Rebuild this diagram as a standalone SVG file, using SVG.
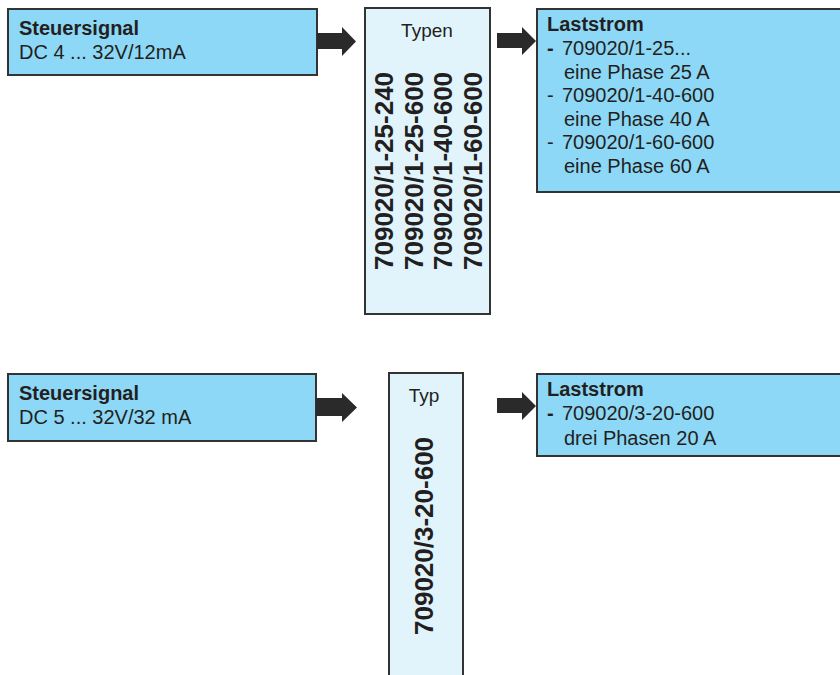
<svg xmlns="http://www.w3.org/2000/svg" width="840" height="675" viewBox="0 0 840 675">
<style>
text{font-family:"Liberation Sans",Arial,sans-serif;fill:#231f20}
.t{font-size:20px}
.b{font-weight:bold}
.v{font-size:26px;font-weight:bold}
.blue{fill:#8dd8f7;stroke:#333;stroke-width:2}
.light{fill:#e1f4fc;stroke:#333;stroke-width:2}
.arr{fill:#2b2a2a}
</style>
<rect width="840" height="675" fill="#fff"/>
<g id="steuer1">
<rect class="blue" x="8" y="9" width="309" height="66"/>
<text class="t b" x="19" y="35">Steuersignal</text>
<text class="t" x="19" y="59">DC 4 ... 32V/12mA</text>
</g>
<g id="typen">
<rect class="light" x="365" y="8" width="125" height="306"/>
<text class="t" x="427" y="37" text-anchor="middle" style="font-size:19px">Typen</text>
<text class="v" transform="translate(393,270) rotate(-90)">709020/1-25-240</text>
<text class="v" transform="translate(423,270) rotate(-90)">709020/1-25-600</text>
<text class="v" transform="translate(452,270) rotate(-90)">709020/1-40-600</text>
<text class="v" transform="translate(482,270) rotate(-90)">709020/1-60-600</text>
</g>
<g id="last1">
<rect class="blue" x="537" y="9" width="310" height="183"/>
<text class="t b" x="547" y="31">Laststrom</text>
<text class="t"><tspan class="b" x="547" y="55">-</tspan><tspan x="562" y="55">709020/1-25...</tspan></text>
<text class="t" x="564" y="79">eine Phase 25 A</text>
<text class="t"><tspan x="547" y="102">-</tspan><tspan x="562" y="102">709020/1-40-600</tspan></text>
<text class="t" x="564" y="126">eine Phase 40 A</text>
<text class="t"><tspan x="547" y="149">-</tspan><tspan x="562" y="149">709020/1-60-600</tspan></text>
<text class="t" x="564" y="173">eine Phase 60 A</text>
</g>
<g id="steuer2">
<rect class="blue" x="8" y="374" width="308" height="67"/>
<text class="t b" x="19" y="400">Steuersignal</text>
<text class="t" x="19" y="424">DC 5 ... 32V/32 mA</text>
</g>
<g id="typ">
<rect class="light" x="389" y="373" width="74" height="312"/>
<text class="t" x="424" y="402" text-anchor="middle" style="font-size:19px">Typ</text>
<text class="v" transform="translate(433,635) rotate(-90)">709020/3-20-600</text>
</g>
<g id="last2">
<rect class="blue" x="537" y="374" width="310" height="82"/>
<text class="t b" x="547" y="396">Laststrom</text>
<text class="t"><tspan class="b" x="547" y="420">-</tspan><tspan x="562" y="420">709020/3-20-600</tspan></text>
<text class="t" x="564" y="445">drei Phasen 20 A</text>
</g>
<g id="connectors">
<polygon class="arr" points="317,33 342,33 342,27 356,41.5 342,56 342,49 317,49"/>
<polygon class="arr" points="497,33 522,33 522,27 536,41 522,55 522,48 497,48"/>
<polygon class="arr" points="316,398 342,398 342,393 357,407.5 342,422 342,416 316,416"/>
<polygon class="arr" points="497,398 522,398 522,392 536,406 522,420 522,413 497,413"/>
</g>
</svg>
